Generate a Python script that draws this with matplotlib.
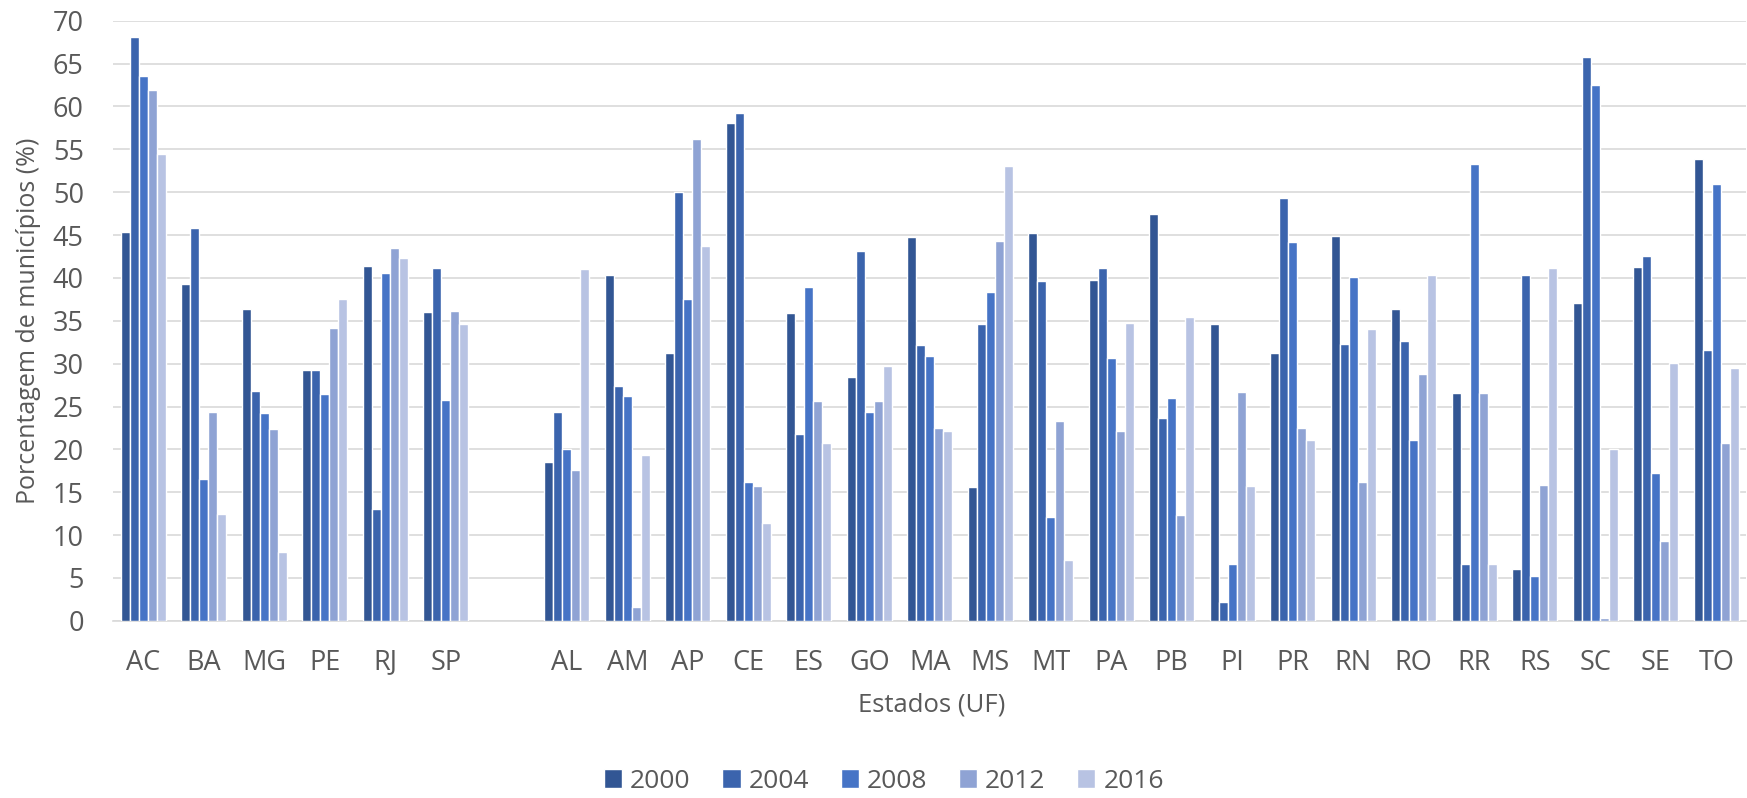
import numpy as np
import matplotlib
matplotlib.use('Agg')
import matplotlib.pyplot as plt

plt.rcParams['font.family'] = ['Open Sans', 'DejaVu Sans']

estados = ['AC', 'BA', 'MG', 'PE', 'RJ', 'SP', '',
           'AL', 'AM', 'AP', 'CE', 'ES', 'GO', 'MA', 'MS', 'MT', 'PA', 'PB',
           'PI', 'PR', 'RN', 'RO', 'RR', 'RS', 'SC', 'SE', 'TO']
anos = ['2000', '2004', '2008', '2012', '2016']

v2000 = [45.4, 39.3, 36.4, 29.3, 41.4, 36.0, np.nan,
         18.5, 40.3, 31.2, 58.1, 35.9, 28.5, 44.8, 15.6, 45.2, 39.8, 47.5,
         34.6, 31.3, 44.9, 36.4, 26.6, 6.1, 37.1, 41.3, 53.9]
v2004 = [68.1, 45.8, 26.8, 29.3, 13.0, 41.2, np.nan,
         24.4, 27.4, 50.0, 59.2, 21.8, 43.1, 32.2, 34.6, 39.7, 41.2, 23.7,
         2.2, 49.3, 32.3, 32.7, 6.6, 40.4, 65.8, 42.6, 31.6]
v2008 = [63.5, 16.5, 24.3, 26.5, 40.6, 25.8, np.nan,
         20.0, 26.2, 37.5, 16.2, 38.9, 24.4, 30.9, 38.4, 12.1, 30.7, 26.0,
         6.6, 44.2, 40.1, 21.1, 53.3, 5.2, 62.5, 17.2, 51.0]
v2012 = [61.9, 24.4, 22.4, 34.2, 43.5, 36.1, np.nan,
         17.6, 1.6, 56.2, 15.7, 25.6, 25.6, 22.5, 44.3, 23.3, 22.1, 12.4,
         26.7, 22.5, 16.2, 28.8, 26.6, 15.8, 0.3, 9.3, 20.7]
v2016 = [54.5, 12.5, 8.0, 37.5, 42.3, 34.6, np.nan,
         41.1, 19.3, 43.7, 11.4, 20.7, 29.7, 22.1, 53.1, 7.1, 34.7, 35.4,
         15.7, 21.1, 34.1, 40.3, 6.6, 41.2, 20.1, 30.1, 29.5]

series = [v2000, v2004, v2008, v2012, v2016]
cores = ['#325694', '#3B64AD', '#4674C6', '#8FA3D4', '#B8C3E3']
cinza = '#595959'

fig = plt.figure(figsize=(17.47, 7.98), dpi=100)
ax = fig.add_axes([0.0647, 0.222, 0.935, 0.752])

x = np.arange(len(estados))
w = 0.148
for i, (vals, c, ano) in enumerate(zip(series, cores, anos)):
    ax.bar(x + (i - 2) * w, vals, w, color=c, edgecolor='white', linewidth=1.0, label=ano, zorder=3)

ax.set_xlim(-0.5, len(estados) - 0.5)
ax.set_ylim(0, 70)
ax.set_yticks(range(0, 71, 5))
ax.set_xticks(x)
ax.set_xticklabels(estados)
ax.grid(axis='y', color='#D9D9D9', linewidth=1.2, zorder=0)
for s in ['top', 'right', 'left']:
    ax.spines[s].set_visible(False)
ax.spines['bottom'].set_color('#D9D9D9')
ax.spines['bottom'].set_linewidth(1.2)
ax.tick_params(axis='both', length=0, labelsize=19.5, colors=cinza)
ax.tick_params(axis='x', pad=20)
ax.tick_params(axis='y', pad=21)

ax.set_ylabel('Porcentagem de municípios (%)', fontsize=18, color=cinza, va='center')
ax.yaxis.set_label_coords(-0.052, 0.5)
ax.set_xlabel('Estados (UF)', fontsize=18.5, color=cinza, va='center')
ax.xaxis.set_label_coords(0.501, -0.14)

leg = fig.legend(loc='center', ncol=5, bbox_to_anchor=(0.506, 0.021), frameon=False,
                 fontsize=19, handlelength=0.69, handleheight=0.69, handletextpad=0.3,
                 columnspacing=1.2, borderpad=0)
for t in leg.get_texts():
    t.set_color(cinza)

fig.savefig('out.png', dpi=100)
